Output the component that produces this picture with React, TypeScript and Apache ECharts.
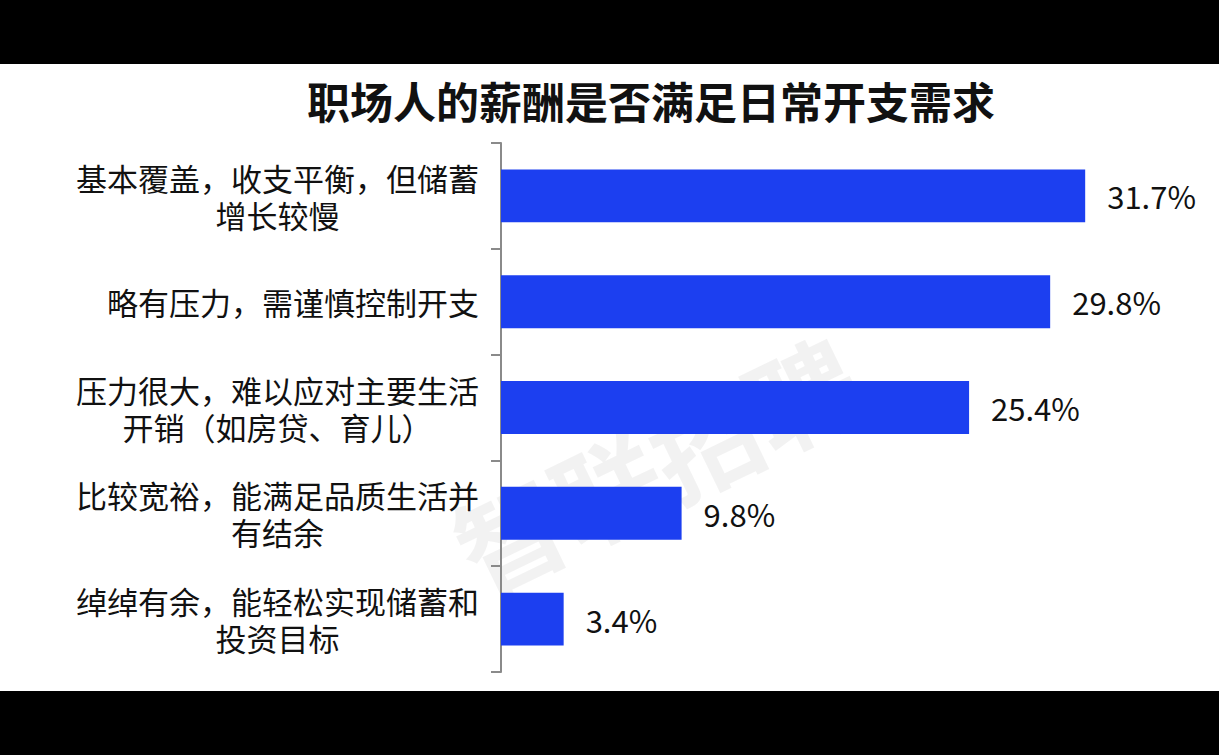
import React, { useEffect, useRef } from "react";
import * as echarts from "echarts";

const categories = [
  "基本覆盖，收支平衡，但储蓄\n增长较慢",
  "略有压力，需谨慎控制开支",
  "压力很大，难以应对主要生活\n开销（如房贷、育儿）",
  "比较宽裕，能满足品质生活并\n有结余",
  "绰绰有余，能轻松实现储蓄和\n投资目标",
];
const values = [31.7, 29.8, 25.4, 9.8, 3.4];
const titleText = "职场人的薪酬是否满足日常开支需求";
const watermarkText = "智联招聘";

export default function App() {
  const ref = useRef<HTMLDivElement>(null);
  useEffect(() => {
    if (!ref.current) return;
    const chart = echarts.init(ref.current, null, { renderer: "svg" });
    const font = "'Noto Sans CJK SC', 'Noto Sans', sans-serif";
    chart.setOption({
      animation: false,
      backgroundColor: "#000000",
      graphic: [
        { type: "rect", shape: { x: 0, y: 64, width: 1219, height: 627 }, style: { fill: "#ffffff" }, z: -10 },
        {
          type: "text",
          x: 655,
          y: 462,
          rotation: 0.45,
          z: -5,
          style: {
            text: watermarkText,
            fontSize: 108,
            fontWeight: "bold",
            fontFamily: font,
            fill: "rgba(0,0,0,0.05)",
            align: "center",
            verticalAlign: "middle",
          },
        },
        {
          type: "text",
          x: 651,
          y: 100,
          z: 10,
          style: {
            text: titleText,
            fontSize: 43,
            fontWeight: "bold",
            fontFamily: font,
            fill: "#111111",
            align: "center",
            verticalAlign: "middle",
          },
        },
      ],
      grid: { left: 501, top: 143, bottom: 83, right: 73, containLabel: false },
      xAxis: { type: "value", min: 0, max: 35, show: false },
      yAxis: {
        type: "category",
        data: categories,
        inverse: true,
        axisLine: { show: true, lineStyle: { color: "#8a8a8a", width: 2 } },
        axisTick: { show: true, length: 10, lineStyle: { color: "#8a8a8a", width: 2 } },
        axisLabel: {
          margin: 22,
          color: "#111111",
          fontFamily: font,
          fontSize: 31,
          lineHeight: 37,
          formatter: (v: string) => v.split("\n").map((l) => `{a|${l}}`).join("\n"),
          rich: { a: { align: "center", fontSize: 31, lineHeight: 37, fontFamily: font, color: "#111111" } },
        },
        splitLine: { show: false },
      },
      series: [
        {
          type: "bar",
          data: values,
          barWidth: "50%",
          itemStyle: { color: "#1c3ff0" },
          label: {
            show: true,
            position: "right",
            distance: 22,
            formatter: (p: any) => `${p.value}%`,
            color: "#111111",
            fontSize: 31,
            fontFamily: font,
          },
        },
      ],
    });
    return () => chart.dispose();
  }, []);
  return (
    <div
      ref={ref}
      style={{ position: "absolute", left: 0, top: 0, width: 1219, height: 755 }}
    />
  );
}
